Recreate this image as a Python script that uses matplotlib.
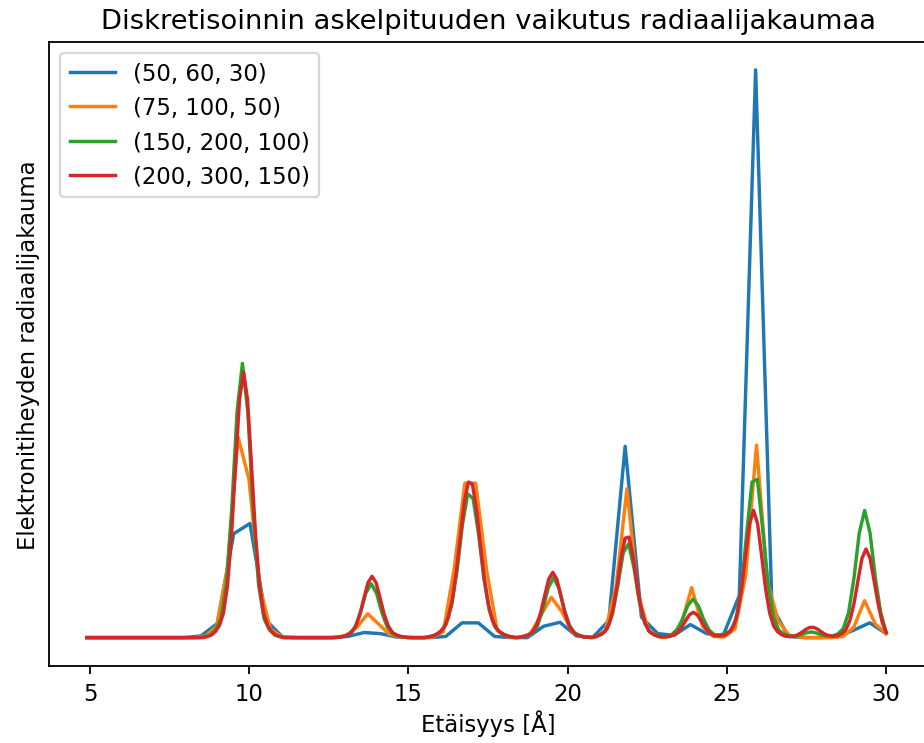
import numpy as np
import matplotlib
matplotlib.use("Agg")
import matplotlib.pyplot as plt

# --- radial grids (number of radial points per discretisation) ---
r_start, r_end = 4.9, 30.0
n_points = [50, 75, 150, 200]
labels = ["(50, 60, 30)", "(75, 100, 50)", "(150, 200, 100)", "(200, 300, 150)"]

# --- radial distribution values ---
blue_y = ([0.0] * 7
          + [0.003, 0.025, 0.183, 0.201, 0.03, 0.001]
          + [0.0] * 3
          + [0.002, 0.009, 0.007, 0.001]
          + [0.0] * 2
          + [0.002, 0.026, 0.026, 0.002]
          + [0.0] * 2
          + [0.02, 0.027, 0.003]
          + [0.0]
          + [0.03, 0.337, 0.036, 0.007, 0.004, 0.023, 0.007, 0.003, 0.074, 1.0, 0.055, 0.002]
          + [0.0] * 2
          + [0.001, 0.013, 0.026, 0.007])

orange_y = ([0.0] * 11
            + [0.003, 0.02, 0.12, 0.353, 0.28, 0.09, 0.015, 0.002]
            + [0.0] * 5
            + [0.004, 0.018, 0.042, 0.024, 0.006, 0.001]
            + [0.0] * 2
            + [0.001, 0.01, 0.12, 0.272, 0.272, 0.12, 0.012, 0.001]
            + [0.0]
            + [0.005, 0.038, 0.071, 0.045, 0.008, 0.001]
            + [0.0]
            + [0.012, 0.09, 0.262, 0.08, 0.012, 0.001]
            + [0.002, 0.022, 0.088, 0.02, 0.002]
            + [0.001, 0.015, 0.11, 0.339, 0.1, 0.03, 0.004, 0.001]
            + [0.0] * 3
            + [0.002, 0.018, 0.065, 0.024, 0.007])

green_y = ([0.0] * 22
           + [0.0016, 0.0046, 0.014, 0.034, 0.094, 0.225, 0.398, 0.483, 0.398, 0.225,
              0.094, 0.034, 0.014, 0.0046, 0.0016]
           + [0.0] * 9
           + [0.0003, 0.0009, 0.0028, 0.0067, 0.0185, 0.0443, 0.0783, 0.095, 0.0783, 0.0443,
              0.0185, 0.0067, 0.0028, 0.0009, 0.0003]
           + [0.0] * 3
           + [0.0018, 0.0048, 0.011, 0.024, 0.057, 0.118, 0.198, 0.253, 0.245, 0.184,
              0.105, 0.049, 0.020, 0.0094, 0.0042, 0.0016]
           + [0.0]
           + [0.001, 0.0031, 0.0074, 0.0207, 0.0494, 0.0873, 0.106, 0.0873, 0.0494, 0.0207,
              0.0074, 0.0031, 0.001]
           + [0.0]
           + [0.0022, 0.0059, 0.0154, 0.042, 0.0927, 0.150, 0.165, 0.1225, 0.063, 0.0252,
              0.0093, 0.0037, 0.0018,
              0.002, 0.0048, 0.0133, 0.0317, 0.056, 0.068, 0.056, 0.0317, 0.0133, 0.0048,
              0.005, 0.0066, 0.012, 0.032, 0.084, 0.183, 0.274, 0.279, 0.19, 0.094,
              0.037, 0.013, 0.006,
              0.0037, 0.002, 0.0047, 0.0082, 0.010, 0.0082, 0.0047, 0.0028, 0.0028,
              0.0065, 0.0157, 0.0437, 0.1044, 0.1846, 0.224, 0.1846, 0.1044, 0.0437, 0.010])

red_y = ([0.0] * 30
         + [0.002, 0.0045, 0.0106, 0.0215, 0.043, 0.091, 0.180, 0.302, 0.419, 0.468,
            0.419, 0.302, 0.180, 0.091, 0.043, 0.0215, 0.0106, 0.0045, 0.002]
         + [0.0] * 14
         + [0.001, 0.0024, 0.005, 0.0098, 0.0211, 0.0415, 0.0698, 0.0968, 0.108, 0.0968,
            0.0698, 0.0415, 0.0211, 0.0098, 0.005, 0.0024, 0.001]
         + [0.0] * 5
         + [0.0013, 0.0028, 0.0057, 0.0105, 0.0187, 0.0361, 0.067, 0.116, 0.178, 0.240,
            0.274, 0.270, 0.226, 0.162, 0.102, 0.058, 0.030, 0.016, 0.009, 0.005,
            0.0024, 0.001]
         + [0.0]
         + [0.0011, 0.0026, 0.0053, 0.0105, 0.0224, 0.0442, 0.0743, 0.103, 0.115, 0.103,
            0.0743, 0.0442, 0.0224, 0.0105, 0.0053, 0.0026, 0.0011]
         + [0.0005, 0.0011, 0.0027, 0.0057, 0.0109, 0.0235, 0.049, 0.0905, 0.140, 0.175,
            0.177, 0.143, 0.094, 0.0516, 0.0253, 0.0112, 0.006, 0.003, 0.0012]
         + [0.001, 0.0021, 0.0041, 0.0087, 0.0171, 0.0288, 0.040, 0.0446, 0.040, 0.0288,
            0.0171, 0.0087, 0.0041, 0.0031, 0.0032,
            0.0051, 0.0103, 0.0204, 0.0437, 0.086, 0.1447, 0.2007, 0.224, 0.2007, 0.1447,
            0.086, 0.0437, 0.0204, 0.0103, 0.0051, 0.0022, 0.0021,
            0.0024, 0.005, 0.0093, 0.0144, 0.018, 0.018, 0.0146, 0.0095, 0.0052, 0.0032,
            0.0026,
            0.0035, 0.0072, 0.0142, 0.0304, 0.0599, 0.1008, 0.1398, 0.156, 0.1398, 0.1008,
            0.0599, 0.028, 0.009])

series = [blue_y, orange_y, green_y, red_y]

# ============================================================
# Plot
# ============================================================
plt.rcParams.update({
    "font.size": 10,
    "lines.linewidth": 1.5,
})

DPI = 164
fig = plt.figure(figsize=(924 / DPI, 744 / DPI), dpi=DPI)
# axes deliberately reaches past the right edge (the original is cropped there)
ax = fig.add_axes([49 / 924, 77 / 744, 878.5 / 924, 624.5 / 744])

for n, y, lab in zip(n_points, series, labels):
    r = np.linspace(r_start, r_end, n)
    ax.plot(r, y, label=lab)

ax.set_xlim(3.71, 31.3)
ax.set_xticks([5, 10, 15, 20, 25, 30])
ax.set_yticks([])

ax.set_title("Diskretisoinnin askelpituuden vaikutus radiaalijakaumaa")
ax.set_xlabel("Etäisyys [Å]", labelpad=2)
ax.set_ylabel("Elektronitiheyden radiaalijakauma")
ax.legend(loc="upper left")

fig.savefig("out.png", dpi=DPI)
